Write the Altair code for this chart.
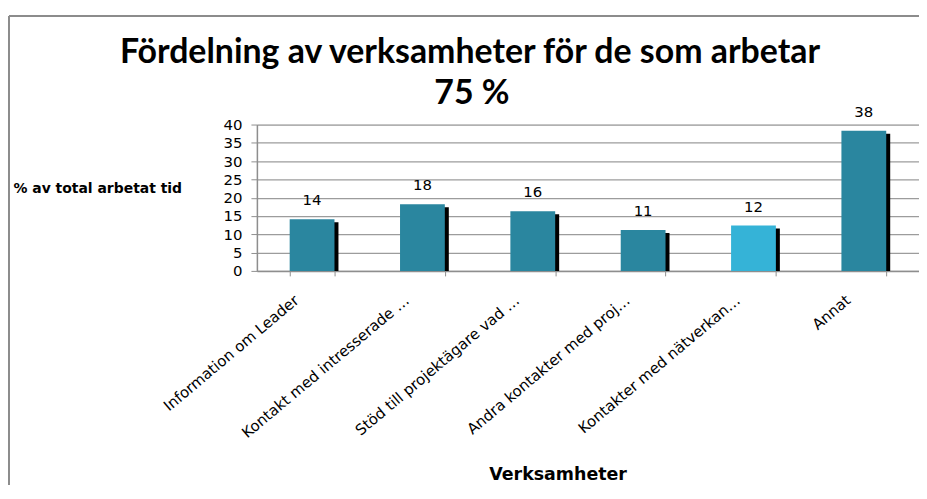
import altair as alt
import pandas as pd

title_lines = ["Fördelning av verksamheter för de som arbetar", "75 %"]
categories = [
    "Information om Leader",
    "Kontakt med intresserade …",
    "Stöd till projektägare vad …",
    "Andra kontakter med proj…",
    "Kontakter med nätverkan…",
    "Annat",
]
values = [14.1, 18.2, 16.3, 11.2, 12.4, 38.3]
colors = ["#2A869F", "#2A869F", "#2A869F", "#2A869F", "#35B3D7", "#2A869F"]
y_ticks = [0, 5, 10, 15, 20, 25, 30, 35, 40]

df = pd.DataFrame({"cat": categories, "val": values, "col": colors})

xenc = alt.X(
    "cat:N",
    sort=categories,
    scale=alt.Scale(paddingInner=0.594, paddingOuter=0.297),
    axis=alt.Axis(
        title="Verksamheter",
        labelAngle=-40,
        labelAlign="right",
        labelBaseline="middle",
        labelFont="DejaVu Sans",
        labelFontSize=15,
        labelColor="#000000",
        labelPadding=22,
        labelOffset=-16,
        labelLimit=400,
        tickBand="extent",
        tickSize=5,
        tickColor="#8e8e8e",
        domainColor="#8e8e8e",
        domainWidth=1.5,
        titleFont="DejaVu Sans",
        titleFontSize=17.5,
        titleFontWeight="bold",
        titleColor="#000000",
        titleX=302,
        titleY=205,
        titleBaseline="middle",
        titleAlign="center",
        grid=False,
    ),
)

yenc = alt.Y(
    "val:Q",
    scale=alt.Scale(domain=[0, 40], nice=False),
    axis=alt.Axis(
        title="% av total arbetat tid",
        values=y_ticks,
        labelOverlap=False,
        labelFont="DejaVu Sans",
        labelFontSize=15,
        labelColor="#000000",
        labelPadding=9,
        tickSize=6,
        tickColor="#8e8e8e",
        domainColor="#8e8e8e",
        domainWidth=1.5,
        gridColor="#9c9c9c",
        gridWidth=1.2,
        titleAngle=0,
        titleFont="DejaVu Sans",
        titleFontSize=14,
        titleFontWeight="bold",
        titleColor="#000000",
        titleAlign="left",
        titleBaseline="middle",
        titleX=-245,
        titleY=64,
    ),
)

base = alt.Chart(df)

shadow = base.mark_bar(color="#000000", xOffset=4, yOffset=3, clip=True).encode(
    x=xenc, y=yenc
)
bars = base.mark_bar().encode(
    x=xenc, y=yenc, color=alt.Color("col:N", scale=None)
)
labels = base.mark_text(
    font="DejaVu Sans", fontSize=15, baseline="bottom", dy=-11, color="#000000"
).encode(
    x=xenc,
    y=yenc,
    text=alt.Text("val:Q", format=".0f"),
)

one = pd.DataFrame({"k": [0]})
frame_left = alt.Chart(one).mark_rule(color="#8c8c8c", strokeWidth=2).encode(
    x=alt.value(-249), y=alt.value(-109), y2=alt.value(400)
)
frame_top = alt.Chart(one).mark_rule(color="#8c8c8c", strokeWidth=2).encode(
    x=alt.value(-249), x2=alt.value(669), y=alt.value(-109)
)
title_font = "Lato"
title1 = alt.Chart(one).mark_text(
    font=title_font, fontSize=34, fontWeight="bold", color="#000000",
    align="center", baseline="alphabetic"
).encode(x=alt.value(214), y=alt.value(-62), text=alt.value(title_lines[0]))
title2 = alt.Chart(one).mark_text(
    font=title_font, fontSize=34, fontWeight="bold", color="#000000",
    align="center", baseline="alphabetic"
).encode(x=alt.value(216), y=alt.value(-21), text=alt.value(title_lines[1]))

chart = (
    alt.layer(frame_left, frame_top, title1, title2, shadow, bars, labels)
    .resolve_scale(x="shared", y="shared")
    .properties(
        width=665,
        height=147,
        autosize=alt.AutoSizeParams(type="none"),
        padding={"left": 250, "top": 116, "right": 0, "bottom": 214},
    )
    .configure_view(stroke=None)
    .configure(background="#ffffff")
)

chart.save("out.html", embed_options={"renderer": "svg", "actions": False})
